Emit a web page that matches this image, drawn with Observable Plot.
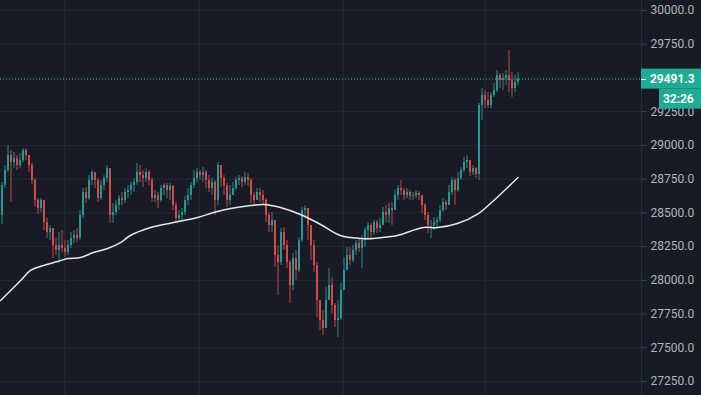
<!DOCTYPE html>
<html><head><meta charset="utf-8">
<script src="https://cdn.jsdelivr.net/npm/d3@7"></script>
<script src="https://cdn.jsdelivr.net/npm/@observablehq/plot@0.6"></script>
<style>
html,body{margin:0;padding:0;background:#181b26;overflow:hidden}
</style></head><body><div id="chart"></div>
<script>
// ---- data ----
const firstOpen = 28480;
const close = [
28703,28814,28925,28873,28903,28851,28888,28962,28925,28851,
28740,28592,28532,28592,28428,28354,28384,28258,28221,28258,
28236,28206,28258,28310,28332,28310,28480,28651,28606,28740,
28799,28740,28606,28703,28755,28829,28480,28502,28554,28606,
28592,28651,28666,28703,28725,28799,28777,28755,28799,28740,
28606,28629,28592,28681,28703,28666,28695,28554,28458,28480,
28502,28592,28629,28703,28755,28799,28777,28799,28740,28681,
28725,28592,28851,28755,28703,28592,28629,28681,28740,28755,
28725,28762,28740,28629,28592,28651,28629,28592,28480,28406,
28443,28184,28132,28354,28258,28132,27961,28161,28073,28295,
28517,28532,28406,28258,28110,27850,27702,27643,27850,27961,
27813,27702,27717,27924,28073,28184,28147,28221,28273,28236,
28295,28369,28406,28354,28428,28384,28406,28502,28480,28532,
28517,28629,28681,28666,28629,28651,28621,28629,28643,28629,
28554,28480,28406,28406,28428,28443,28517,28577,28554,28651,
28740,28666,28755,28814,28873,28888,28799,28829,28784,29296,
29370,29333,29296,29370,29407,29518,29481,29496,29518,29481,
29422,29466,29491.3];
const high = [
28725,28851,28999,28962,28947,28925,28940,28977,28977,28925,
28866,28755,28606,28606,28592,28458,28406,28384,28310,28354,
28369,28295,28295,28354,28369,28384,28517,28681,28688,28777,
28814,28799,28755,28740,28777,28851,28829,28569,28592,28629,
28651,28681,28703,28725,28755,28866,28851,28814,28829,28814,
28755,28666,28651,28703,28718,28718,28718,28703,28577,28517,
28532,28621,28681,28725,28814,28829,28814,28836,28814,28777,
28755,28740,28873,28851,28777,28718,28703,28725,28762,28777,
28769,28799,28792,28755,28651,28681,28681,28666,28606,28502,
28502,28443,28258,28384,28391,28295,28147,28199,28221,28317,
28540,28554,28517,28384,28295,28132,27850,27776,27947,28087,
28021,27828,27850,27976,28169,28243,28243,28258,28295,28310,
28332,28391,28428,28421,28443,28443,28458,28540,28554,28569,
28577,28666,28703,28740,28681,28681,28666,28651,28666,28658,
28629,28569,28502,28443,28465,28465,28554,28606,28592,28703,
28762,28755,28799,28836,28910,28925,28888,28851,28836,29311,
29422,29407,29392,29392,29459,29555,29533,29533,29555,29703,
29540,29518,29540];
const low = [
28414,28681,28799,28577,28829,28814,28829,28873,28888,28799,
28710,28540,28488,28502,28369,28310,28295,28161,28184,28124,
28206,28169,28184,28236,28273,28280,28295,28458,28569,28592,
28703,28681,28577,28592,28666,28725,28421,28421,28480,28517,
28554,28569,28606,28629,28651,28703,28725,28688,28725,28703,
28577,28577,28532,28577,28629,28606,28592,28517,28421,28428,
28443,28480,28554,28592,28681,28725,28740,28725,28681,28651,
28629,28480,28554,28688,28629,28540,28554,28629,28666,28703,
28688,28703,28695,28569,28554,28592,28577,28562,28428,28354,
28354,28095,27887,28110,28221,28087,27828,27924,27998,28058,
28280,28458,28295,28147,28058,27724,27628,27591,27702,27872,
27754,27650,27576,27702,27924,28073,28110,28132,28184,28206,
28087,28243,28295,28295,28332,28347,28354,28428,28428,28421,
28406,28517,28592,28629,28592,28606,28592,28592,28606,28592,
28495,28443,28347,28310,28369,28391,28428,28502,28517,28554,
28629,28554,28651,28740,28799,28829,28769,28777,28755,28740,
29185,29274,29274,29274,29355,29392,29422,29407,29444,29392,
29355,29392,29444];
// moving average line, sampled at candle positions
const maIndex = [-0.5,6.2,9.5,13.8,18.5,21.8,26.2,30.5,35.2,39.5,42.8,49.5,57.2,65.2,70.5,76.2,82.8,87.2,92.8,99.5,106.2,112.8,119.5,123.8,129.5,131.8,140.5,145.2,151.8,158.8,162.8,172];
const maValue = [27850,27998,28073,28110,28139,28161,28169,28206,28236,28280,28332,28391,28428,28465,28502,28532,28554,28562,28540,28488,28414,28332,28310,28310,28325,28332,28391,28391,28421,28495,28569,28762];
const timeGridIndex = [20.8, 65.8, 113.8, 161.2];
const priceTicks = [27250,27500,27750,28000,28250,28500,28750,29000,29250,29500,29750,30000];
const hiddenTick = 29500; // covered by the last-price badge
const lastPrice = 29491.3;
const lastPriceLabel = "29491.3";
const countdown = "32:26";

// ---- build ----
const UP = "#26a69a", DOWN = "#ef5350", BG = "#181b26", GRID = "#242834";
const candles = close.map((c, i) => {
  const o = i === 0 ? firstOpen : close[i - 1];
  return {i, o, c, h: Math.max(high[i], o, c), l: Math.min(low[i], o, c), up: c >= o};
});
const ups = candles.filter(d => d.up), downs = candles.filter(d => !d.up);
const ma = maIndex.map((x, k) => ({x, v: maValue[k]}));

const W = 701, H = 395, AX = 641;
const plot = Plot.plot({
  width: W, height: H,
  marginLeft: 0, marginRight: W - AX, marginTop: 0, marginBottom: 0,
  style: {background: BG, color: "#b2b5be", fontFamily: "Roboto, 'Noto Sans', sans-serif", fontSize: "12px", overflow: "visible"},
  x: {type: "linear", domain: [-0.5, (AX - 1.5) / 3], range: [0, AX], axis: null},
  y: {type: "linear", domain: [27250, 30000], range: [381, 10], axis: null},
  marks: [
    Plot.ruleY(priceTicks, {stroke: GRID}),
    Plot.ruleX(timeGridIndex, {stroke: GRID}),
    Plot.ruleY([lastPrice], {stroke: "#4aa7a0", strokeDasharray: "1,2"}),
    Plot.ruleX(ups, {x: "i", y1: "l", y2: "h", stroke: UP, strokeWidth: 1, strokeOpacity: 0.85}),
    Plot.ruleX(downs, {x: "i", y1: "l", y2: "h", stroke: DOWN, strokeWidth: 1, strokeOpacity: 0.8}),
    Plot.ruleX(ups, {x: "i", y1: "o", y2: "c", stroke: UP, strokeWidth: 2, strokeOpacity: 0.85}),
    Plot.ruleX(downs, {x: "i", y1: "o", y2: "c", stroke: DOWN, strokeWidth: 2, strokeOpacity: 0.8}),
    Plot.line(ma, {x: "x", y: "v", stroke: "#e6e7ea", strokeWidth: 1.5, curve: "catmull-rom"}),
    Plot.axisY(priceTicks.filter(t => t !== hiddenTick), {anchor: "right", tickSize: 5, tickPadding: 4, tickFormat: d3.format(".1f"), stroke: "#3a3e49", fill: "#b2b5be", fontSize: 12})
  ]
});
document.getElementById("chart").appendChild(plot);

// price scale border and last-price labels, positioned with the plot's y scale
const svg = d3.select(plot);
const ys = plot.scale("y");
const yp = ys.apply(lastPrice);
svg.append("line").attr("x1", AX + 0.5).attr("x2", AX + 0.5).attr("y1", 0).attr("y2", H).attr("stroke", "#2a2e39");
svg.append("rect").attr("x", AX).attr("y", yp - 10).attr("width", W - AX).attr("height", 20).attr("fill", "#22ab94");
svg.append("line").attr("x1", AX).attr("x2", AX + 5).attr("y1", Math.round(yp) + 0.5).attr("y2", Math.round(yp) + 0.5).attr("stroke", "#fff");
svg.append("text").attr("x", AX + 9).attr("y", yp).attr("dy", "0.35em").attr("text-anchor", "start").attr("fill", "#fff").attr("font-weight", 600).attr("font-size", 12).text(lastPriceLabel);
svg.append("rect").attr("x", 659).attr("y", yp + 10).attr("width", W - 659).attr("height", 20).attr("fill", "#22ab94");
svg.append("text").attr("x", 663).attr("y", yp + 20).attr("dy", "0.35em").attr("text-anchor", "start").attr("fill", "#fff").attr("font-weight", 600).attr("font-size", 12).text(countdown);
</script></body></html>
